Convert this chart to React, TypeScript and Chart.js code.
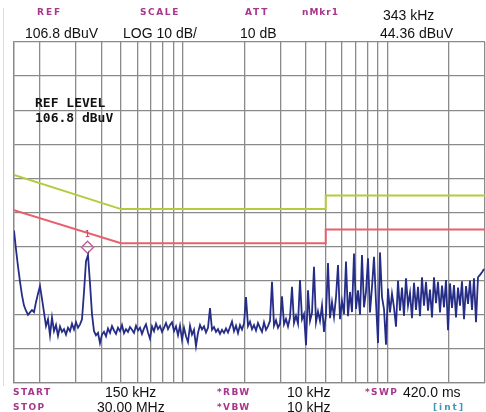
import React, { useEffect, useRef } from 'react';
import { Chart, registerables } from 'chart.js';

Chart.register(...registerables);

// Graticule (log frequency grid, 10 dB/div from REF 106.8 dBuV)
const gridFreqs = [
  150e3, 200e3, 300e3, 400e3, 500e3, 600e3, 700e3, 800e3, 900e3,
  1e6, 2e6, 3e6, 4e6, 5e6, 6e6, 7e6, 8e6, 9e6, 10e6, 20e6, 30e6,
];
const gridLevels = [6.8, 16.8, 26.8, 36.8, 46.8, 56.8, 66.8, 76.8, 86.8, 96.8, 106.8];

// Limit lines
const limitFreqs = [150e3, 500e3, 5e6, 5e6, 30e6];
const qpLimit = [67.8, 57.8, 57.8, 61.8, 61.8];
const avgLimit = [57.5, 47.8, 47.8, 51.8, 51.8];

// Marker
const markerFreq = 343e3;
const markerSymbolLevel = 46.6;
const markerLabelLevel = 50.2;

// Trace levels (dBuV), one per sweep point, 150 kHz .. 30 MHz
const traceLevels = [
  51.5, 46, 41, 36.5, 32.5, 29.5, 28, 26.8, 27.5, 28.2,
  27.6, 30.5, 33, 35.2, 31.5, 27.5, 23.5, 25.5, 20.8, 26,
  22, 23.8, 20.6, 23.4, 21.8, 22.6, 21, 23, 22, 24.2,
  22.5, 24.6, 23, 24, 25.5, 33.5, 42.5, 44.3, 36, 27,
  22, 20.8, 21.5, 18.5, 21, 21.8, 20.5, 22.8, 21.5, 23.5,
  22.2, 21.2, 23, 22, 23.8, 21.4, 22.6, 21.8, 23.2, 22.4,
  21.5, 23.6, 22.2, 23, 21.2, 22.8, 24, 21.6, 19.8, 23.4,
  22, 24.2, 22.6, 23.5, 21.8, 23, 24.4, 22.6, 23.8, 24.6,
  22, 23.4, 20.8, 23.6, 19.5, 23, 20.5, 18.8, 23.6, 21,
  22.4, 17.6, 21.5, 23.8, 22.5, 23.4, 21.6, 23, 28.8, 22.4,
  23.2, 21.8, 22.6, 21.2, 22.4, 21.5, 22.8, 21.6, 23.2, 24.8,
  22, 23.6, 21.4, 23.8, 22.5, 24.2, 32, 23.5, 24.8, 22.6,
  23.8, 22.2, 24.4, 23, 21.8, 24.6, 22.4, 23.5, 25, 36.5,
  23.6, 25.2, 23, 24.2, 32.2, 24, 25.6, 23.4, 26, 35,
  24.4, 26.5, 24.2, 37, 25.5, 27, 17.9, 34, 25, 27.4,
  40.9, 24.6, 27.8, 25, 29.5, 21.8, 27, 42, 25.8, 30.5,
  26.2, 32, 41.4, 25.5, 30.8, 27, 42.4, 26.4, 33.5, 27.6,
  44.8, 28.5, 34, 26.8, 44.3, 29, 33.6, 43.4, 27.5, 35,
  43.8, 30.5, 18.5, 45.1, 32, 28.5, 18, 34.5, 27.5, 33,
  29, 23.3, 36.8, 28, 34.8, 26.5, 37.5, 29.5, 33.2, 25.8,
  36.2, 28.2, 35, 26.4, 37.8, 29.5, 36.5, 28, 34.2, 26,
  37.8, 30.2, 36.5, 27.5, 35.4, 29, 37, 22.3, 36, 28.8,
  35.5, 26, 34.8, 29.5, 36.6, 25.5, 35.2, 30, 36.8, 28.2,
  37.5, 24.6, 37.8, 38.5, 39.3, 40.2,
];

const PINK = '#a8368a';
const GRID = '#8a8a8a';

type LabelProps = {
  text: string;
  x: number;
  cy: number;
  size: number;
  color?: string;
  bold?: boolean;
  family?: string;
  spacing?: number;
};

function Label({ text, x, cy, size, color = '#111', bold = false, family = '"Liberation Sans", Arial, sans-serif', spacing = 0 }: LabelProps) {
  return (
    <span
      style={{
        position: 'absolute',
        left: x,
        top: cy - size / 2,
        fontSize: size,
        lineHeight: `${size}px`,
        fontFamily: family,
        fontWeight: bold ? 700 : 400,
        color,
        letterSpacing: spacing,
        whiteSpace: 'pre',
      }}
    >
      {text}
    </span>
  );
}

const TAG_FONT = '"DejaVu Sans", sans-serif';
const MONO = '"DejaVu Sans Mono", monospace';

export default function App() {
  const canvasRef = useRef<HTMLCanvasElement | null>(null);

  useEffect(() => {
    const canvas = canvasRef.current;
    if (!canvas) return;

    const markerLabelPlugin = {
      id: 'markerLabel',
      afterDatasetsDraw(chart: any) {
        const ctx = chart.ctx;
        const xs = chart.scales.x;
        const ys = chart.scales.y;
        const px = xs.getPixelForValue(markerFreq);
        const py = ys.getPixelForValue(markerLabelLevel);
        ctx.save();
        ctx.fillStyle = '#c0507a';
        ctx.font = 'bold 8px "DejaVu Sans Mono", monospace';
        ctx.textAlign = 'center';
        ctx.textBaseline = 'middle';
        ctx.fillText('1', px, py);
        ctx.restore();
      },
    };

    const chart = new Chart(canvas, {
      type: 'line',
      data: {
        datasets: [
          {
            label: 'QP limit',
            data: limitFreqs.map((f, i) => ({ x: f, y: qpLimit[i] })),
            xAxisID: 'x',
            yAxisID: 'y',
            borderColor: '#b2cc3c',
            borderWidth: 2,
            pointRadius: 0,
            tension: 0,
          },
          {
            label: 'AV limit',
            data: limitFreqs.map((f, i) => ({ x: f, y: avgLimit[i] })),
            xAxisID: 'x',
            yAxisID: 'y',
            borderColor: '#e8606c',
            borderWidth: 2,
            pointRadius: 0,
            tension: 0,
          },
          {
            label: 'Trace',
            data: traceLevels.map((v, i) => ({ x: i, y: v })),
            xAxisID: 'xt',
            yAxisID: 'y',
            borderColor: '#252d86',
            borderWidth: 1.8,
            pointRadius: 0,
            tension: 0,
          },
          {
            label: 'Marker',
            data: [{ x: markerFreq, y: markerSymbolLevel }],
            xAxisID: 'x',
            yAxisID: 'y',
            showLine: false,
            pointStyle: 'rectRot',
            pointRadius: 6,
            pointBorderColor: '#c8609a',
            pointBackgroundColor: 'rgba(255,255,255,0)',
            pointBorderWidth: 1.5,
          },
        ],
      },
      options: {
        animation: false,
        responsive: false,
        devicePixelRatio: 1,
        layout: { autoPadding: false, padding: { left: 14, top: 42, right: 1, bottom: 29 } },
        plugins: {
          legend: { display: false },
          tooltip: { enabled: false },
          title: { display: false },
        },
        scales: {
          x: {
            type: 'logarithmic',
            position: 'bottom',
            min: 150e3,
            max: 30e6,
            afterBuildTicks: (s: any) => {
              s.ticks = gridFreqs.map((v) => ({ value: v }));
            },
            ticks: { display: false },
            grid: { color: GRID, lineWidth: 1.3, drawTicks: false },
            border: { display: true, color: GRID, width: 1.3 },
          },
          xt: {
            type: 'linear',
            display: false,
            min: 0,
            max: traceLevels.length - 0.5,
          },
          y: {
            type: 'linear',
            position: 'left',
            min: 6.8,
            max: 106.8,
            afterBuildTicks: (s: any) => {
              s.ticks = gridLevels.map((v) => ({ value: v }));
            },
            ticks: { display: false },
            grid: { color: GRID, lineWidth: 1.3, drawTicks: false },
            border: { display: true, color: GRID, width: 1.3 },
          },
        },
      },
      plugins: [markerLabelPlugin],
    } as any);

    return () => chart.destroy();
  }, []);

  return (
    <div
      style={{
        position: 'fixed',
        left: 0,
        top: 0,
        width: 486,
        height: 412,
        background: '#fff',
        overflow: 'hidden',
      }}
    >
      <div style={{ position: 'absolute', left: 3, top: 8, width: 1, height: 378, background: '#dcdcdc' }} />
      <canvas ref={canvasRef} width={486} height={412} style={{ position: 'absolute', left: 0, top: 0, width: 486, height: 412 }} />

      {/* header */}
      <Label text="REF" x={37} cy={12} size={9} color={PINK} bold family={TAG_FONT} spacing={2} />
      <Label text="SCALE" x={140} cy={12} size={9} color={PINK} bold family={TAG_FONT} spacing={1.6} />
      <Label text="ATT" x={245} cy={12} size={9} color={PINK} bold family={TAG_FONT} spacing={1.8} />
      <Label text="nMkr1" x={302} cy={12} size={9} color={PINK} bold family={TAG_FONT} spacing={1} />
      <Label text="343 kHz" x={383} cy={15} size={14} />
      <Label text="106.8 dBuV" x={25} cy={33} size={14} />
      <Label text="LOG 10 dB/" x={123} cy={33} size={14} />
      <Label text="10 dB" x={240} cy={33} size={14} />
      <Label text="44.36 dBuV" x={380} cy={33} size={14} />

      {/* in-plot reference level text */}
      <Label text="REF LEVEL" x={35} cy={102} size={13} family={MONO} bold />
      <Label text="106.8 dBuV" x={35} cy={117} size={13} family={MONO} bold />

      {/* footer */}
      <Label text="START" x={13} cy={392} size={9} color={PINK} bold family={TAG_FONT} spacing={1.4} />
      <Label text="150 kHz" x={105} cy={392} size={14} />
      <Label text="*RBW" x={217} cy={392} size={9} color={PINK} bold family={TAG_FONT} spacing={1.4} />
      <Label text="10 kHz" x={287} cy={392} size={14} />
      <Label text="*SWP" x={365} cy={392} size={9} color={PINK} bold family={TAG_FONT} spacing={1.4} />
      <Label text="420.0 ms" x={403} cy={392} size={14} />
      <Label text="STOP" x={13} cy={407} size={9} color={PINK} bold family={TAG_FONT} spacing={1.4} />
      <Label text="30.00 MHz" x={97} cy={407} size={14} />
      <Label text="*VBW" x={217} cy={407} size={9} color={PINK} bold family={TAG_FONT} spacing={1.4} />
      <Label text="10 kHz" x={287} cy={407} size={14} />
      <Label text="[int]" x={433} cy={407} size={9} color="#3f97b5" bold family={TAG_FONT} spacing={2} />
    </div>
  );
}
